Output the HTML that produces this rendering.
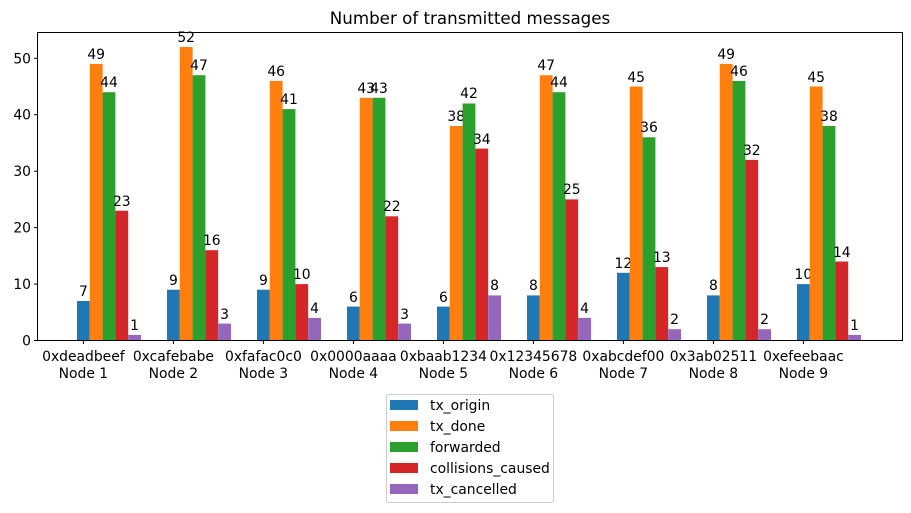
<!DOCTYPE html>
<html><head><meta charset="utf-8"><style>
body{margin:0;background:#fff}
svg{display:block;font-family:"DejaVu Sans","Liberation Sans",sans-serif}
</style></head><body>
<svg width="911" height="513" viewBox="0 0 911 513" xmlns="http://www.w3.org/2000/svg">
<text x="470" y="24" font-size="16.7" text-anchor="middle">Number of transmitted messages</text>
<g font-size="13.9" text-anchor="middle">
<g transform="translate(0,-1)">
<g transform="translate(0,0)">
<rect x="77" y="302.0" width="12.8" height="39.5" fill="#1f77b4"/><text x="83.4" y="297">7</text>
<rect x="89.8" y="64.9" width="12.8" height="276.6" fill="#ff7f0e"/><text x="96.2" y="60">49</text>
<rect x="102.6" y="93.2" width="12.8" height="248.3" fill="#2ca02c"/><text x="109" y="88">44</text>
<rect x="115.4" y="211.7" width="12.8" height="129.8" fill="#d62728"/><text x="121.8" y="207">23</text>
<rect x="128.2" y="335.9" width="12.8" height="5.6" fill="#9467bd"/><text x="134.6" y="331">1</text>
</g>
<g transform="translate(90,0)">
<rect x="77" y="290.7" width="12.8" height="50.8" fill="#1f77b4"/><text x="83.4" y="286">9</text>
<rect x="89.8" y="48.0" width="12.8" height="293.5" fill="#ff7f0e"/><text x="96.2" y="43">52</text>
<rect x="102.6" y="76.2" width="12.8" height="265.3" fill="#2ca02c"/><text x="109" y="71">47</text>
<rect x="115.4" y="251.2" width="12.8" height="90.3" fill="#d62728"/><text x="121.8" y="246">16</text>
<rect x="128.2" y="324.6" width="12.8" height="16.9" fill="#9467bd"/><text x="134.6" y="320">3</text>
</g>
<g transform="translate(180,0)">
<rect x="77" y="290.7" width="12.8" height="50.8" fill="#1f77b4"/><text x="83.4" y="286">9</text>
<rect x="89.8" y="81.9" width="12.8" height="259.6" fill="#ff7f0e"/><text x="96.2" y="77">46</text>
<rect x="102.6" y="110.1" width="12.8" height="231.4" fill="#2ca02c"/><text x="109" y="105">41</text>
<rect x="115.4" y="285.1" width="12.8" height="56.4" fill="#d62728"/><text x="121.8" y="280">10</text>
<rect x="128.2" y="318.9" width="12.8" height="22.6" fill="#9467bd"/><text x="134.6" y="314">4</text>
</g>
<g transform="translate(270,0)">
<rect x="77" y="307.6" width="12.8" height="33.9" fill="#1f77b4"/><text x="83.4" y="303">6</text>
<rect x="89.8" y="98.8" width="12.8" height="242.7" fill="#ff7f0e"/><text x="96.2" y="94">43</text>
<rect x="102.6" y="98.8" width="12.8" height="242.7" fill="#2ca02c"/><text x="109" y="94">43</text>
<rect x="115.4" y="217.3" width="12.8" height="124.2" fill="#d62728"/><text x="121.8" y="212">22</text>
<rect x="128.2" y="324.6" width="12.8" height="16.9" fill="#9467bd"/><text x="134.6" y="320">3</text>
</g>
<g transform="translate(360,0)">
<rect x="77" y="307.6" width="12.8" height="33.9" fill="#1f77b4"/><text x="83.4" y="303">6</text>
<rect x="89.8" y="127.0" width="12.8" height="214.5" fill="#ff7f0e"/><text x="96.2" y="122">38</text>
<rect x="102.6" y="104.5" width="12.8" height="237.0" fill="#2ca02c"/><text x="109" y="99">42</text>
<rect x="115.4" y="149.6" width="12.8" height="191.9" fill="#d62728"/><text x="121.8" y="145">34</text>
<rect x="128.2" y="296.4" width="12.8" height="45.1" fill="#9467bd"/><text x="134.6" y="291">8</text>
</g>
<g transform="translate(450,0)">
<rect x="77" y="296.4" width="12.8" height="45.1" fill="#1f77b4"/><text x="83.4" y="291">8</text>
<rect x="89.8" y="76.2" width="12.8" height="265.3" fill="#ff7f0e"/><text x="96.2" y="71">47</text>
<rect x="102.6" y="93.2" width="12.8" height="248.3" fill="#2ca02c"/><text x="109" y="88">44</text>
<rect x="115.4" y="200.4" width="12.8" height="141.1" fill="#d62728"/><text x="121.8" y="195">25</text>
<rect x="128.2" y="318.9" width="12.8" height="22.6" fill="#9467bd"/><text x="134.6" y="314">4</text>
</g>
<g transform="translate(540,0)">
<rect x="77" y="273.8" width="12.8" height="67.7" fill="#1f77b4"/><text x="83.4" y="269">12</text>
<rect x="89.8" y="87.5" width="12.8" height="254.0" fill="#ff7f0e"/><text x="96.2" y="83">45</text>
<rect x="102.6" y="138.3" width="12.8" height="203.2" fill="#2ca02c"/><text x="109" y="133">36</text>
<rect x="115.4" y="268.1" width="12.8" height="73.4" fill="#d62728"/><text x="121.8" y="263">13</text>
<rect x="128.2" y="330.2" width="12.8" height="11.3" fill="#9467bd"/><text x="134.6" y="325">2</text>
</g>
<g transform="translate(630,0)">
<rect x="77" y="296.4" width="12.8" height="45.1" fill="#1f77b4"/><text x="83.4" y="291">8</text>
<rect x="89.8" y="64.9" width="12.8" height="276.6" fill="#ff7f0e"/><text x="96.2" y="60">49</text>
<rect x="102.6" y="81.9" width="12.8" height="259.6" fill="#2ca02c"/><text x="109" y="77">46</text>
<rect x="115.4" y="160.9" width="12.8" height="180.6" fill="#d62728"/><text x="121.8" y="156">32</text>
<rect x="128.2" y="330.2" width="12.8" height="11.3" fill="#9467bd"/><text x="134.6" y="325">2</text>
</g>
<g transform="translate(720,0)">
<rect x="77" y="285.1" width="12.8" height="56.4" fill="#1f77b4"/><text x="83.4" y="280">10</text>
<rect x="89.8" y="87.5" width="12.8" height="254.0" fill="#ff7f0e"/><text x="96.2" y="83">45</text>
<rect x="102.6" y="127.0" width="12.8" height="214.5" fill="#2ca02c"/><text x="109" y="122">38</text>
<rect x="115.4" y="262.5" width="12.8" height="79.0" fill="#d62728"/><text x="121.8" y="258">14</text>
<rect x="128.2" y="335.9" width="12.8" height="5.6" fill="#9467bd"/><text x="134.6" y="331">1</text>
</g>
</g>
</g>
<rect x="37.5" y="32.5" width="865" height="308" fill="none" stroke="#000" stroke-width="1"/>
<g stroke="#000" stroke-width="1">
<line x1="34" y1="340.5" x2="37.5" y2="340.5"/>
<line x1="34" y1="284.1" x2="37.5" y2="284.1"/>
<line x1="34" y1="227.6" x2="37.5" y2="227.6"/>
<line x1="34" y1="171.2" x2="37.5" y2="171.2"/>
<line x1="34" y1="114.7" x2="37.5" y2="114.7"/>
<line x1="34" y1="58.3" x2="37.5" y2="58.3"/>
</g>
<g font-size="13.9" text-anchor="end">
<text x="31" y="345.5">0</text>
<text x="31" y="289.1">10</text>
<text x="31" y="232.6">20</text>
<text x="31" y="176.2">30</text>
<text x="31" y="119.7">40</text>
<text x="31" y="63.3">50</text>
</g>
<g stroke="#000" stroke-width="1">
<line x1="83.4" y1="340.5" x2="83.4" y2="344"/>
<line x1="173.4" y1="340.5" x2="173.4" y2="344"/>
<line x1="263.4" y1="340.5" x2="263.4" y2="344"/>
<line x1="353.4" y1="340.5" x2="353.4" y2="344"/>
<line x1="443.4" y1="340.5" x2="443.4" y2="344"/>
<line x1="533.4" y1="340.5" x2="533.4" y2="344"/>
<line x1="623.4" y1="340.5" x2="623.4" y2="344"/>
<line x1="713.4" y1="340.5" x2="713.4" y2="344"/>
<line x1="803.4" y1="340.5" x2="803.4" y2="344"/>
</g>
<g font-size="13.9" text-anchor="middle">
<text x="83.4" y="361">0xdeadbeef</text><text x="83.4" y="378">Node 1</text>
<text x="173.4" y="361">0xcafebabe</text><text x="173.4" y="378">Node 2</text>
<text x="263.4" y="361">0xfafac0c0</text><text x="263.4" y="378">Node 3</text>
<text x="353.4" y="361">0x0000aaaa</text><text x="353.4" y="378">Node 4</text>
<text x="443.4" y="361">0xbaab1234</text><text x="443.4" y="378">Node 5</text>
<text x="533.4" y="361">0x12345678</text><text x="533.4" y="378">Node 6</text>
<text x="623.4" y="361">0xabcdef00</text><text x="623.4" y="378">Node 7</text>
<text x="713.4" y="361">0x3ab02511</text><text x="713.4" y="378">Node 8</text>
<text x="803.4" y="361">0xefeebaac</text><text x="803.4" y="378">Node 9</text>
</g>
<rect x="386.5" y="394.5" width="167" height="108" rx="2" fill="#fff" stroke="#ccc"/>
<rect x="390" y="400" width="28" height="10" fill="#1f77b4"/>
<rect x="390" y="421" width="28" height="10" fill="#ff7f0e"/>
<rect x="390" y="442" width="28" height="10" fill="#2ca02c"/>
<rect x="390" y="463" width="28" height="10" fill="#d62728"/>
<rect x="390" y="484" width="28" height="10" fill="#9467bd"/>
<g font-size="13.9">
<text x="430" y="410">tx_origin</text>
<text x="430" y="431">tx_done</text>
<text x="430" y="452">forwarded</text>
<text x="430" y="473">collisions_caused</text>
<text x="430" y="494">tx_cancelled</text>
</g>
</svg>
</body></html>
